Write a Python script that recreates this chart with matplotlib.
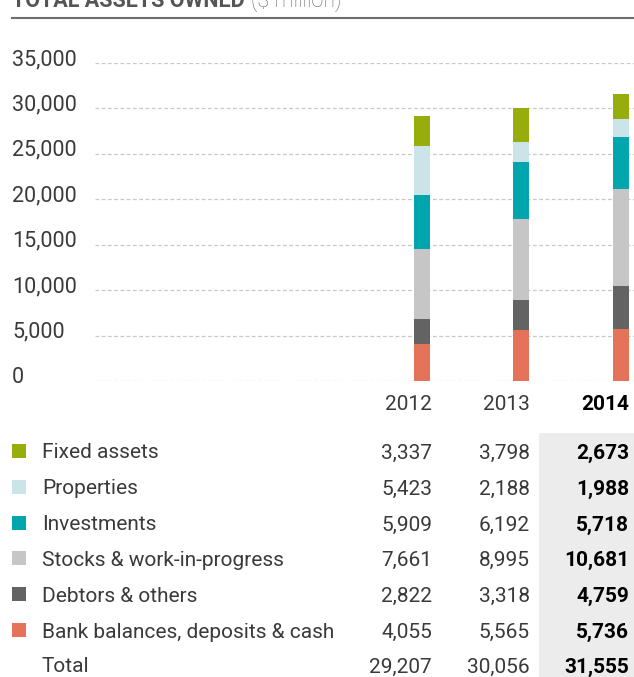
import matplotlib
matplotlib.use("Agg")
import matplotlib.pyplot as plt
from matplotlib.patches import Rectangle
from matplotlib.transforms import ScaledTranslation

years = ["2012", "2013", "2014"]
categories = ["Fixed assets", "Properties", "Investments",
              "Stocks & work-in-progress", "Debtors & others",
              "Bank balances, deposits & cash"]
fixed_assets = [3337, 3798, 2673]
properties = [5423, 2188, 1988]
investments = [5909, 6192, 5718]
stocks = [7661, 8995, 10681]
debtors = [2822, 3318, 4759]
bank = [4055, 5565, 5736]
totals = [29207, 30056, 31555]
yticks = [0, 5000, 10000, 15000, 20000, 25000, 30000, 35000]

colors = {
    "Fixed assets": "#96ad0d",
    "Properties": "#cbe4e8",
    "Investments": "#00a5ae",
    "Stocks & work-in-progress": "#c6c6c6",
    "Debtors & others": "#636363",
    "Bank balances, deposits & cash": "#e5735a",
}
series = dict(zip(categories, [fixed_assets, properties, investments, stocks, debtors, bank]))

W, H = 634, 677
fig = plt.figure(figsize=(W / 100, H / 100), dpi=100)
plt.rcParams['font.family'] = ['Roboto', 'DejaVu Sans']
TXT = '#3a3a3a'
LW = 'normal'

def fx(px):
    return px / W

def fy(py):
    return 1 - py / H

# chart axes
ax = fig.add_axes([fx(95), fy(381), 1 - fx(95), fy(63) - fy(381)])
x = list(range(len(years)))
bottom = [0] * len(years)
for cat in reversed(categories):
    vals = series[cat]
    ax.bar(x, vals, width=0.161, bottom=bottom, color=colors[cat], zorder=3)
    bottom = [b + v for b, v in zip(bottom, vals)]

ax.set_xlim(2 - 5.286, 2 - 5.286 + 5.417)
ax.set_ylim(0, 35000)
ax.set_yticks(yticks)
ax.set_yticklabels([f"{t:,}" for t in yticks])
ax.set_xticks([])
for s in ax.spines.values():
    s.set_visible(False)
ax.grid(axis='y', color='#c8c8c8', linestyle=(0, (3, 2)), linewidth=0.9, zorder=0)
ax.tick_params(axis='y', length=0, pad=83 * 0.72, labelsize=15.5, labelcolor=TXT)
off = ScaledTranslation(0, 6 / 100, fig.dpi_scale_trans)
for lab in ax.get_yticklabels():
    lab.set_horizontalalignment('left')
    lab.set_fontweight(LW)
    lab.set_transform(lab.get_transform() + off)

# title (cropped at top edge, as in the reference) and rule
fig.text(fx(12), fy(7), "TOTAL ASSETS OWNED", fontsize=15.5, fontweight='bold',
         color='#555555', va='baseline', ha='left')
fig.text(fx(251), fy(7), "($ million)", fontsize=15.5, fontweight='light',
         color='#666666', va='baseline', ha='left')
fig.add_artist(plt.Line2D([fx(12), 1], [fy(18.3), fy(18.3)], color='#6e6e6e',
                          linewidth=1.5, transform=fig.transFigure))

# shaded 2014 column
fig.add_artist(Rectangle((fx(539), 0), 1 - fx(539), fy(433), transform=fig.transFigure,
                         facecolor='#ececec', edgecolor='none', zorder=0))

col_right = [432, 530, 629]
fs = 15
dy = 2  # shift text down slightly
# year labels
for i, yr in enumerate(years):
    bold = i == len(years) - 1
    fig.text(fx(col_right[i]), fy(403 + dy), yr, ha='right', va='center', fontsize=fs,
             fontweight='bold' if bold else LW, color='black' if bold else TXT)

rows_y = [451, 487, 523, 558, 594, 630]
for cat, ry in zip(categories, rows_y):
    fig.add_artist(Rectangle((fx(12), fy(ry + 7)), fx(14), 14 / H, transform=fig.transFigure,
                             facecolor=colors[cat], edgecolor='none'))
    fig.text(fx(42), fy(ry + dy), cat, ha='left', va='center', fontsize=fs,
             fontweight=LW, color=TXT)
    vals = series[cat]
    for i, v in enumerate(vals):
        bold = i == len(years) - 1
        fig.text(fx(col_right[i]), fy(ry + dy), f"{v:,}", ha='right', va='center', fontsize=fs,
                 fontweight='bold' if bold else LW, color='black' if bold else TXT)

fig.text(fx(42), fy(665 + dy), "Total", ha='left', va='center', fontsize=fs,
         fontweight=LW, color=TXT)
for i, v in enumerate(totals):
    bold = i == len(years) - 1
    fig.text(fx(col_right[i]), fy(665 + dy), f"{v:,}", ha='right', va='center', fontsize=fs,
             fontweight='bold' if bold else LW, color='black' if bold else TXT)

fig.savefig("out.png", dpi=100)
